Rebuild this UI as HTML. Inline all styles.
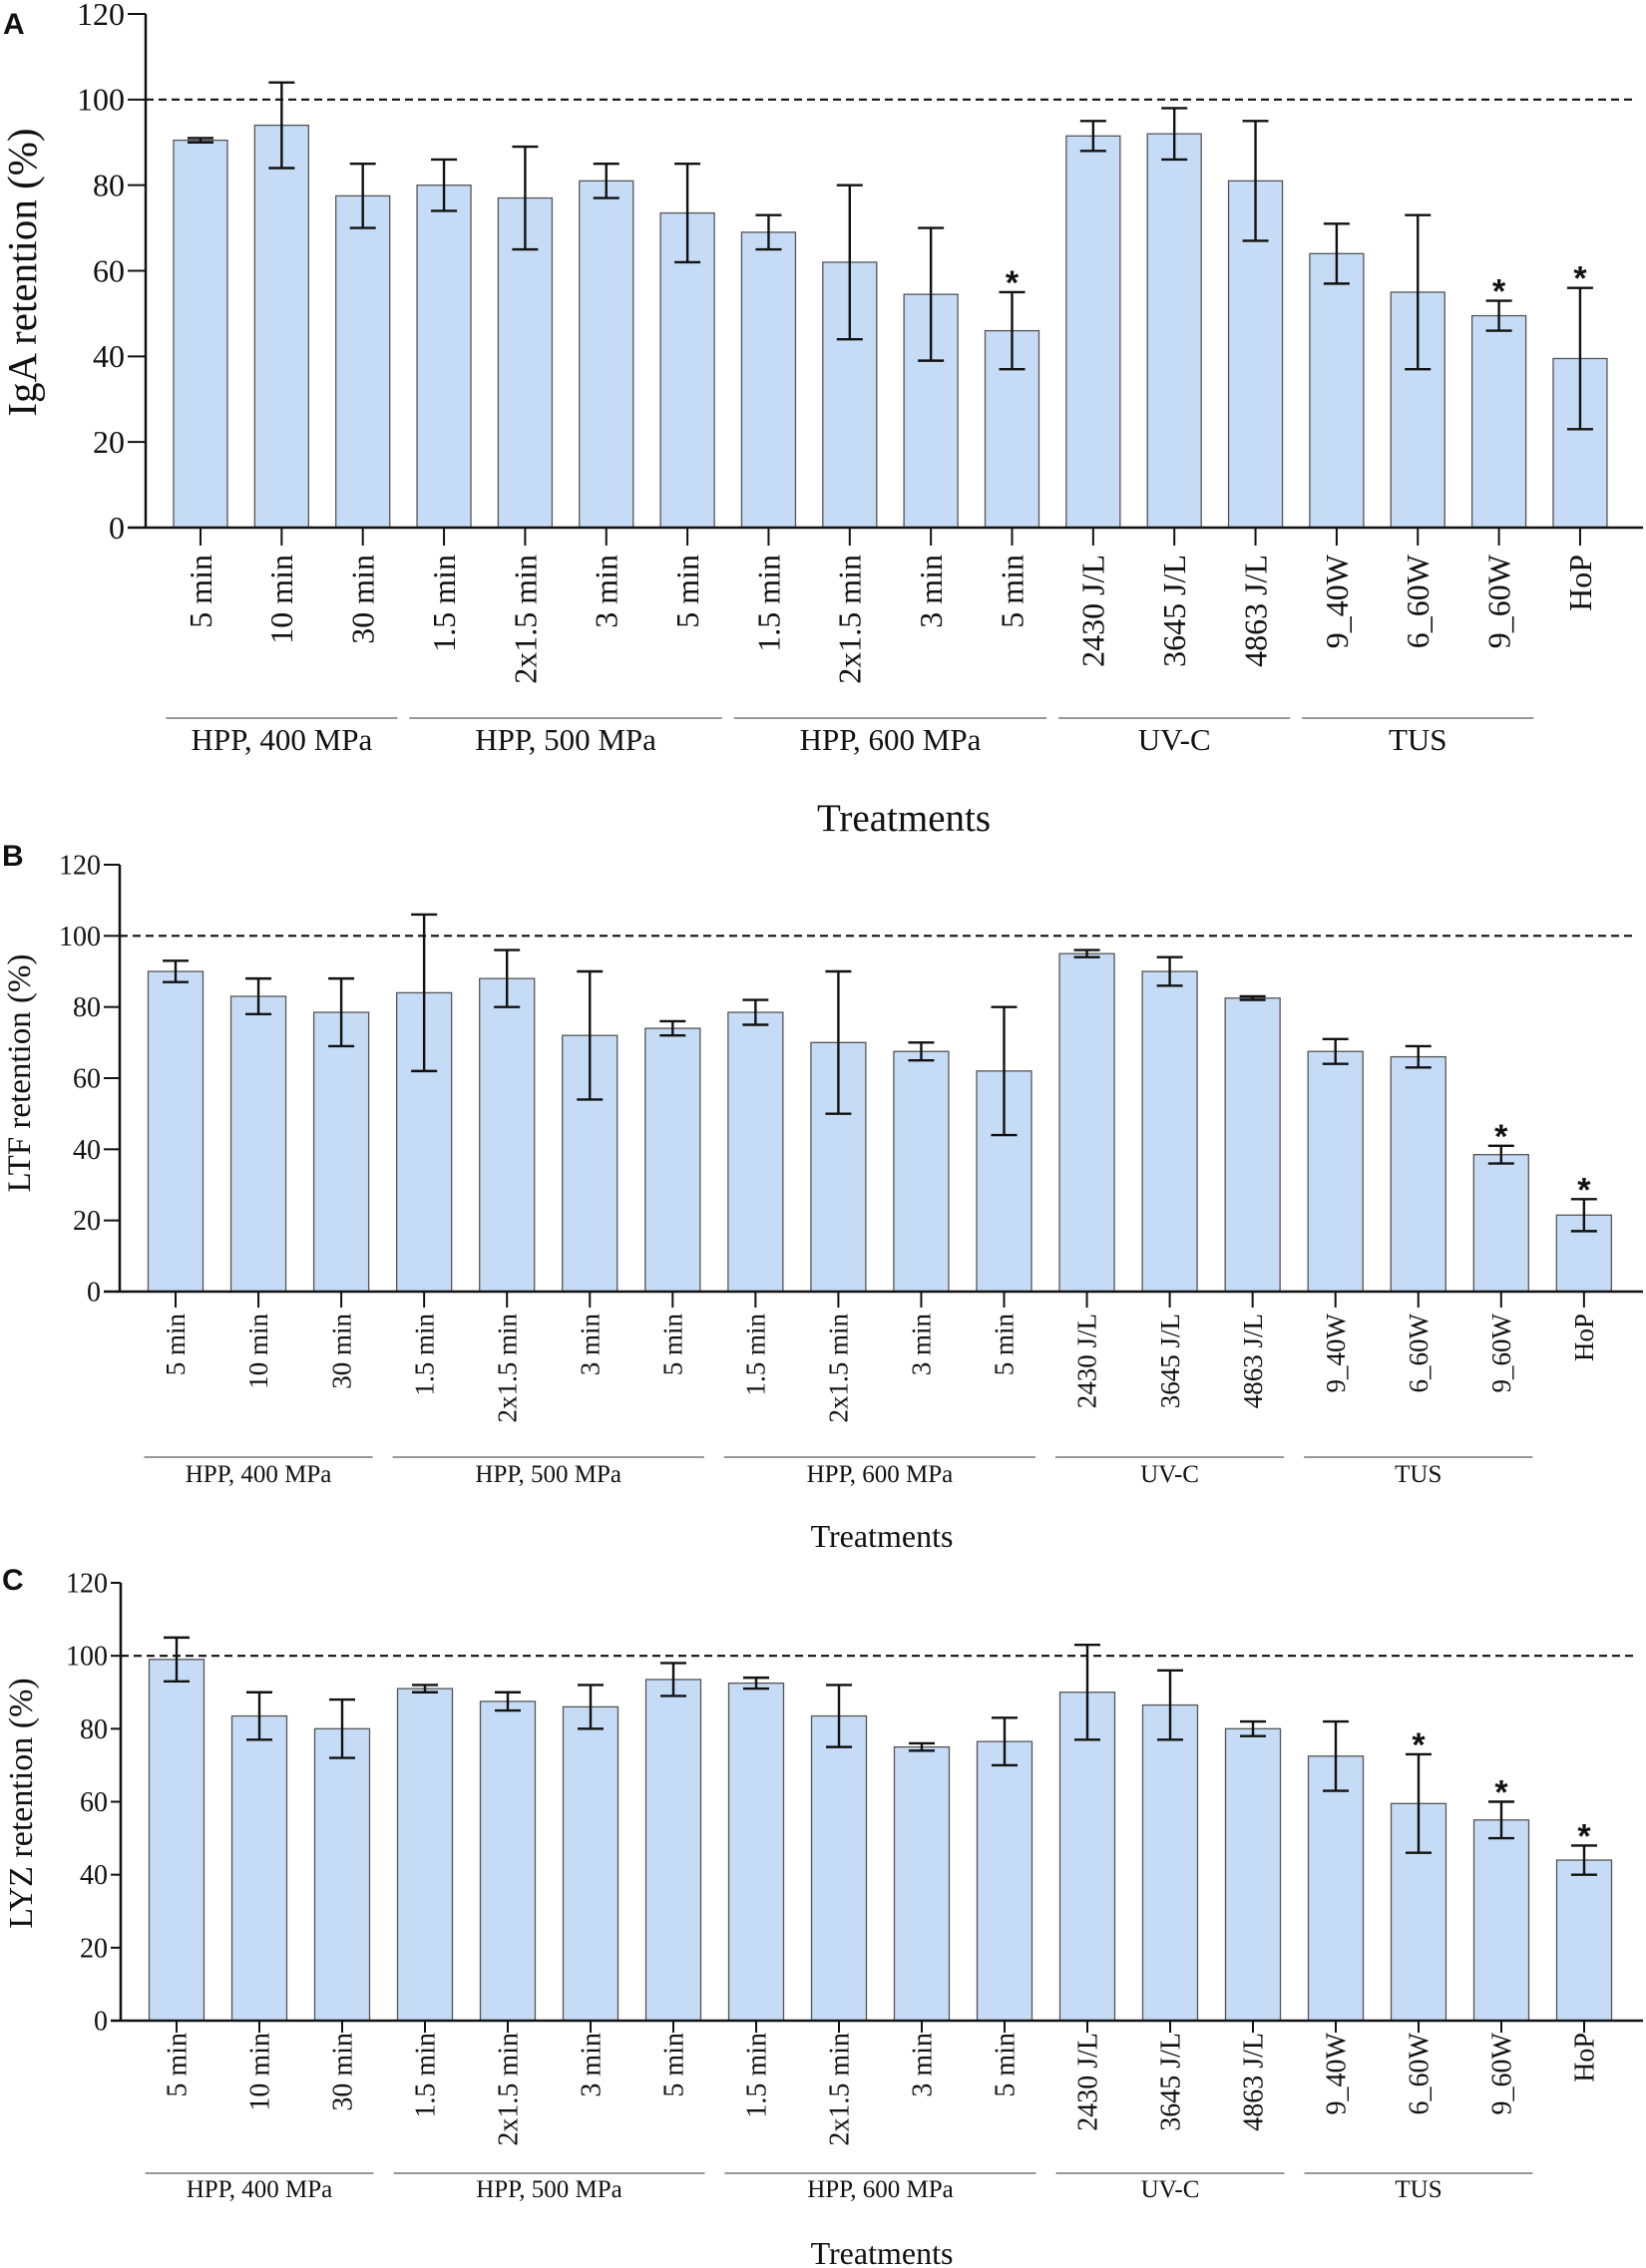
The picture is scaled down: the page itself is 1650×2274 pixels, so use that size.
<!DOCTYPE html>
<html><head><meta charset="utf-8"><style>
html,body{margin:0;padding:0;background:#fff;}
svg{display:block;font-family:"Liberation Serif","Times New Roman",serif;}
</style></head><body>
<svg id="fig" width="1650" height="2274" viewBox="0 0 1650 2274" xmlns="http://www.w3.org/2000/svg" font-family="Liberation Serif, serif"></svg>
<script>
const categories = ["5 min","10 min","30 min","1.5 min","2x1.5 min","3 min","5 min","1.5 min","2x1.5 min","3 min","5 min","2430 J/L","3645 J/L","4863 J/L","9_40W","6_60W","9_60W","HoP"];
const groupNames = ["HPP, 400 MPa","HPP, 500 MPa","HPP, 600 MPa","UV-C","TUS"];
const groupStart = [0,3,7,11,14];
const groupEnd = [2,6,10,13,16];
const yTicks = [0,20,40,60,80,100,120];
const igaValues = [90.5,94,77.5,80,77,81,73.5,69,62,54.5,46,91.5,92,81,64,55,49.5,39.5];
const igaErrors = [0.5,10,7.5,6,12,4,11.5,4,18,15.5,9,3.5,6,14,7,18,3.5,16.5];
const igaSignif = [10,16,17];
const ltfValues = [90,83,78.5,84,88,72,74,78.5,70,67.5,62,95,90,82.5,67.5,66,38.5,21.5];
const ltfErrors = [3,5,9.5,22,8,18,2,3.5,20,2.5,18,1,4,0.5,3.5,3,2.5,4.5];
const ltfSignif = [16,17];
const lyzValues = [99,83.5,80,91,87.5,86,93.5,92.5,83.5,75,76.5,90,86.5,80,72.5,59.5,55,44];
const lyzErrors = [6,6.5,8,1,2.5,6,4.5,1.5,8.5,1,6.5,13,9.5,2,9.5,13.5,5,4];
const lyzSignif = [15,16,17];

const NS = "http://www.w3.org/2000/svg";
const svg = document.getElementById('fig');
const SERIF = '"Liberation Serif", serif';
const SANS = '"Liberation Sans", sans-serif';
function mk(tag, attrs, parent, txt){
  const e = document.createElementNS(NS, tag);
  if (tag === 'text') { e.setAttribute('font-family', SERIF); e.setAttribute('fill', '#111'); }
  for (const k in attrs) e.setAttribute(k, attrs[k]);
  if (txt !== undefined) e.textContent = txt;
  (parent || svg).appendChild(e);
  return e;
}

function drawPanel(p, values, errors, signif){
  const g = mk('g', {});
  
  
  const y = v => p.y0 - (v / 120) * (p.y0 - p.y120);
  const x = i => p.x0 + i * p.step;
  const L = mk('text', {x: p.letterX, y: p.letterY, 'font-size': 30, 'font-family': SANS, 'font-weight': 'bold'}, g, p.id);
  
  
  const ya = mk('line', {x1: p.axX, x2: p.axX, y1: y(120), y2: p.y0 + 1, stroke: '#111', 'stroke-width': 2.5}, g);
  
  
  yTicks.forEach(t => {
    const tk = mk('line', {x1: p.axX - p.tickLen, x2: p.axX, y1: y(t), y2: y(t), stroke: '#111', 'stroke-width': 2}, g);
    
    
    const tl = mk('text', {x: p.axX - p.tickLen - 3, y: y(t) + p.tickFs * 0.34, 'font-size': p.tickFs, 'text-anchor': 'end'}, g, t);
    
    
  });
  const yt = mk('text', {x: 0, y: 0, 'font-size': p.yTitleFs, 'text-anchor': 'middle', transform: `translate(${p.yTitleX},${p.yTitleY}) rotate(-90)`}, g, p.yTitle);
  
  
  const rl = mk('line', {x1: p.axX, x2: p.xEnd - 6, y1: y(100), y2: y(100), stroke: '#111', 'stroke-width': 2.2, 'stroke-dasharray': '8 5'}, g);
  
  
  values.forEach((v, i) => {
    const cx = x(i);
    const b = mk('rect', {x: cx - p.barW / 2, y: y(v), width: p.barW, height: p.y0 - y(v), fill: '#c6dbf5', stroke: '#555', 'stroke-width': 1.3}, g);
    
    
    const e = errors[i];
    const eg = mk('g', {stroke: '#111', 'stroke-width': 2.4}, g);
    
    
    mk('line', {x1: cx, x2: cx, y1: y(v + e), y2: y(v - e)}, eg);
    mk('line', {x1: cx - 13, x2: cx + 13, y1: y(v + e), y2: y(v + e)}, eg);
    mk('line', {x1: cx - 13, x2: cx + 13, y1: y(v - e), y2: y(v - e)}, eg);
    const xt = mk('line', {x1: cx, x2: cx, y1: p.y0, y2: p.y0 + p.xTickLen, stroke: '#111', 'stroke-width': 2}, g);
    
    
    const lab = mk('text', {x: 0, y: 0, 'font-size': p.labFs, 'text-anchor': 'end', transform: `translate(${cx + p.labFs * 0.34},${p.labTop}) rotate(-90)`}, g, categories[i]);
    
    
  });
  signif.forEach(i => {
    const top = y(values[i] + errors[i]);
    const s = mk('text', {x: x(i), y: top + 14, 'font-size': 34, 'text-anchor': 'middle', 'font-family': SANS, 'font-weight': 'bold', transform: 'translate(0,-12)'}, g, '*');
    
    
  });
  const xa = mk('line', {x1: p.axX - p.tickLen, x2: p.xEnd, y1: p.y0, y2: p.y0, stroke: '#111', 'stroke-width': 2.5}, g);
  
  
  groupNames.forEach((n, k) => {
    const gx1 = x(groupStart[k]) - p.step / 2 + p.gPad, gx2 = x(groupEnd[k]) + p.step / 2 - p.gPad;
    const gl = mk('line', {x1: gx1, x2: gx2, y1: p.gLineY, y2: p.gLineY, stroke: '#777', 'stroke-width': 1.6}, g);
    
    
    const gt = mk('text', {x: (gx1 + gx2) / 2, y: p.gTextY, 'font-size': p.gFs, 'text-anchor': 'middle'}, g, n);
    
    
  });
  const xt = mk('text', {x: p.xTitleX, y: p.xTitleY, 'font-size': p.xTitleFs, 'text-anchor': 'middle'}, g, 'Treatments');
  
  
}

drawPanel({id:'A', letterX:3, letterY:34, axX:146, tickLen:18, tickFs:32, y0:529, y120:14, x0:201, step:81.35, barW:54, xEnd:1647,
  yTitle:'IgA retention (%)', yTitleFs:41, yTitleX:36, yTitleY:273, xTickLen:18, labFs:32, labTop:556,
  gLineY:720, gTextY:752, gFs:31, gPad:6, xTitleX:906, xTitleY:833, xTitleFs:39}, igaValues, igaErrors, igaSignif);
drawPanel({id:'B', letterX:2, letterY:868, axX:120, tickLen:16, tickFs:28, y0:1295, y120:867, x0:176, step:83.05, barW:55, xEnd:1647,
  yTitle:'LTF retention (%)', yTitleFs:33, yTitleX:30, yTitleY:1076, xTickLen:16, labFs:27, labTop:1317,
  gLineY:1461, gTextY:1486, gFs:25, gPad:10, xTitleX:884, xTitleY:1551, xTitleFs:32}, ltfValues, ltfErrors, ltfSignif);
drawPanel({id:'C', letterX:2, letterY:1594, axX:121, tickLen:10, tickFs:28, y0:2026, y120:1587, x0:177, step:83.0, barW:55, xEnd:1647,
  yTitle:'LYZ retention (%)', yTitleFs:34, yTitleX:32, yTitleY:1808, xTickLen:12, labFs:28, labTop:2038,
  gLineY:2179, gTextY:2203, gFs:25, gPad:10, xTitleX:884, xTitleY:2270, xTitleFs:32}, lyzValues, lyzErrors, lyzSignif);
</script>
</body></html>
